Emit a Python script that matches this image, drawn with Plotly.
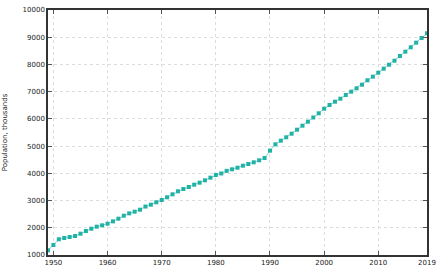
import plotly.graph_objects as go

years = list(range(1949, 2020))
population = [
    1173, 1367, 1577, 1625, 1661, 1698, 1783, 1882, 1966, 2040,
    2090, 2150, 2236, 2334, 2444, 2530, 2591, 2665, 2780, 2848,
    2936, 3020, 3120, 3230, 3340, 3425, 3498, 3583, 3656, 3744,
    3840, 3939, 3995, 4090, 4148, 4207, 4281, 4343, 4405, 4479,
    4564, 4832, 5067, 5199, 5324, 5456, 5603, 5750, 5897, 6052,
    6205, 6375, 6511, 6632, 6742, 6878, 7000, 7124, 7256, 7418,
    7550, 7697, 7844, 7991, 8138, 8311, 8469, 8630, 8800, 8972,
    9145,
]
x_tickvals = [1950, 1960, 1970, 1980, 1990, 2000, 2010, 2019]
x_ticktext = ["1950", "1960", "1970", "1980", "1990", "2000", "2010", "2019"]
y_tickvals = list(range(1000, 10001, 1000))
y_ticktext = [str(v) for v in y_tickvals]

fig = go.Figure()
fig.add_trace(go.Scatter(
    x=years, y=population, mode="lines+markers",
    line=dict(color="#7fd6cf", width=1),
    marker=dict(symbol="square", size=4, color="#20b2a4"),
    hoverinfo="skip", cliponaxis=False,
))

axis_common = dict(
    showline=True, linecolor="#333333", linewidth=1.5, mirror="allticks",
    ticks="inside", ticklen=4, tickcolor="#555555",
    showgrid=True, gridcolor="#dddddd", griddash="dot", gridwidth=1,
    zeroline=False, automargin=False,
    tickfont=dict(family="DejaVu Sans", size=7, color="#222222"),
)

fig.update_layout(
    width=440, height=275,
    margin=dict(l=48, r=13, t=10, b=20),
    plot_bgcolor="white", paper_bgcolor="white",
    showlegend=False,
    xaxis=dict(range=[1949, 2019], tickvals=x_tickvals, ticktext=x_ticktext, **axis_common),
    yaxis=dict(range=[1000, 10000], tickvals=y_tickvals, ticktext=y_ticktext,
               title=dict(text="Population, thousands", standoff=14,
                          font=dict(family="DejaVu Sans", size=7, color="#222222")),
               **axis_common),
)

fig.write_html("out.html")
